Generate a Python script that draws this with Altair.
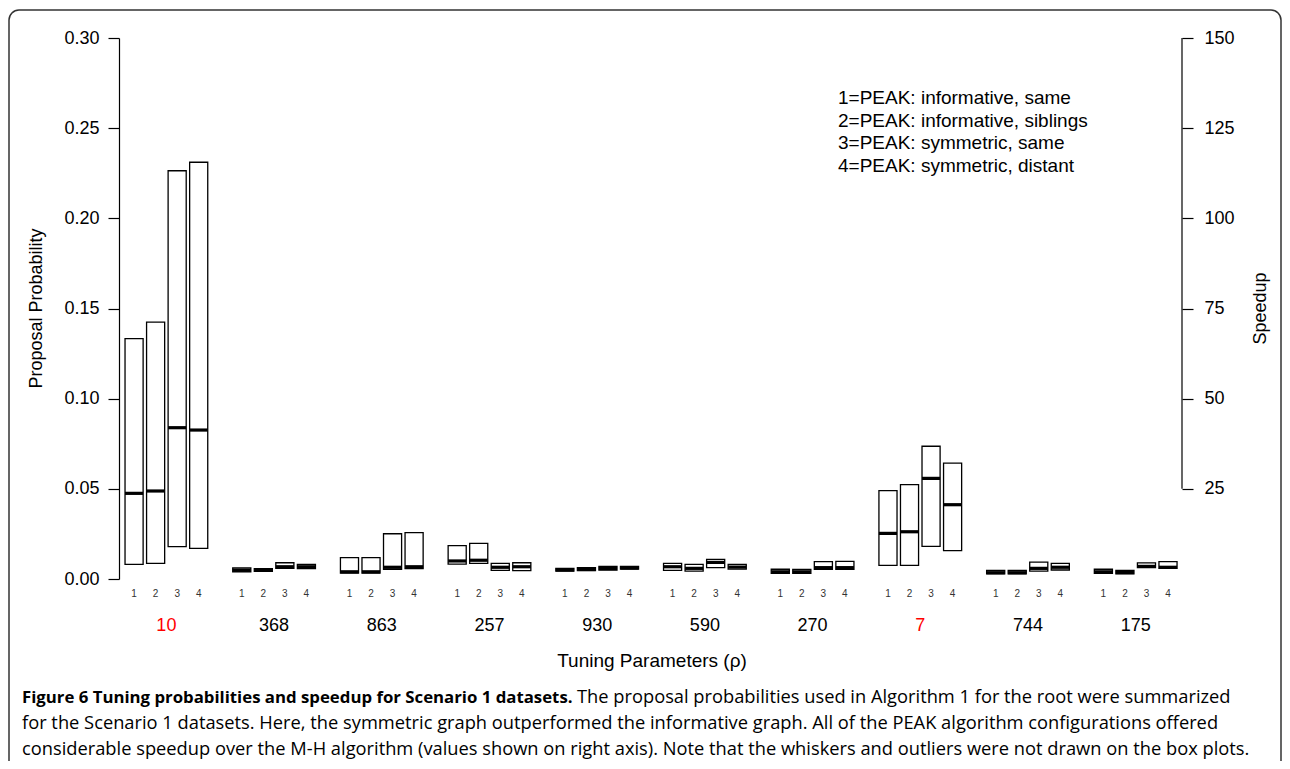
import altair as alt
import pandas as pd

groups = ["10", "368", "863", "257", "930", "590", "270", "7", "744", "175"]
configs = ["1", "2", "3", "4"]
highlight = ["10", "7"]

q1 = [0.0081, 0.0087, 0.0179, 0.0170,
      0.0040, 0.0043, 0.0059, 0.0057,
      0.0033, 0.0033, 0.0054, 0.0057,
      0.0083, 0.0087, 0.0048, 0.0046,
      0.0044, 0.0046, 0.0050, 0.0055,
      0.0048, 0.0044, 0.0063, 0.0055,
      0.0031, 0.0031, 0.0054, 0.0054,
      0.0076, 0.0076, 0.0181, 0.0157,
      0.0028, 0.0028, 0.0044, 0.0050,
      0.0031, 0.0029, 0.0063, 0.0059]
med = [0.0475, 0.0488, 0.0839, 0.0826,
       0.0048, 0.0050, 0.0068, 0.0068,
       0.0040, 0.0040, 0.0065, 0.0068,
       0.0100, 0.0104, 0.0065, 0.0068,
       0.0050, 0.0053, 0.0058, 0.0061,
       0.0068, 0.0059, 0.0092, 0.0066,
       0.0040, 0.0040, 0.0063, 0.0063,
       0.0253, 0.0262, 0.0558, 0.0412,
       0.0035, 0.0035, 0.0059, 0.0065,
       0.0040, 0.0036, 0.0070, 0.0065]
q3 = [0.1333, 0.1425, 0.2264, 0.2311,
      0.0061, 0.0057, 0.0090, 0.0081,
      0.0118, 0.0118, 0.0251, 0.0257,
      0.0185, 0.0198, 0.0087, 0.0090,
      0.0059, 0.0063, 0.0070, 0.0070,
      0.0087, 0.0081, 0.0109, 0.0081,
      0.0054, 0.0053, 0.0096, 0.0098,
      0.0490, 0.0523, 0.0736, 0.0643,
      0.0048, 0.0048, 0.0094, 0.0087,
      0.0054, 0.0048, 0.0089, 0.0096]

prob_ticks = [0.0, 0.05, 0.10, 0.15, 0.20, 0.25, 0.30]
speed_ticks = [25, 50, 75, 100, 125, 150]

legend_lines = ["1=PEAK: informative, same",
                "2=PEAK: informative, siblings",
                "3=PEAK: symmetric, same",
                "4=PEAK: symmetric, distant"]

caption_bold = "Figure 6 Tuning probabilities and speedup for Scenario 1 datasets."
caption_1 = "The proposal probabilities used in Algorithm 1 for the root were summarized"
caption_2 = ("for the Scenario 1 datasets. Here, the symmetric graph outperformed the informative graph. "
             "All of the PEAK algorithm configurations offered")
caption_3 = ("considerable speedup over the M-H algorithm (values shown on right axis). "
             "Note that the whiskers and outliers were not drawn on the box plots.")

# ---- tables ----
rows = []
for g, grp in enumerate(groups):
    for k, c in enumerate(configs):
        i = g * 4 + k
        rows.append({"group": grp, "config": c, "pos": g * 5 + k + 1,
                     "q1": q1[i], "med": med[i], "q3": q3[i]})
boxes = pd.DataFrame(rows)
gdf = pd.DataFrame({"group": groups, "pos": [g * 5 + 2.5 for g in range(len(groups))],
                    "hl": [grp in highlight for grp in groups]})

W, H = 1063, 541
FONT = "Liberation Sans"
CAP = "Open Sans"

xs = alt.Scale(domain=[0.3, 49.65], nice=False, zero=False)
ys = alt.Scale(domain=[0, 0.30], nice=False, zero=True)

base = alt.Chart(boxes).transform_calculate(xa="datum.pos - 0.42", xb="datum.pos + 0.42")

rects = base.mark_rect(fill="white", stroke="black", strokeWidth=1.3).encode(
    x=alt.X("xa:Q", scale=xs, axis=None),
    x2="xb:Q",
    y=alt.Y("q3:Q", scale=ys, axis=alt.Axis(
        orient="left", values=prob_ticks, format=".2f", grid=False,
        tickSize=11, tickColor="black", domainColor="black", domainWidth=1.2, tickWidth=1.2,
        labelFont=FONT, labelFontSize=18, labelColor="black", labelPadding=9,
        title="Proposal Probability", titleFont=FONT, titleFontSize=18, titleFontWeight="normal",
        titleColor="black", titleAngle=270, titleX=-83, titleY=270, titleAlign="center",
        titleBaseline="middle")),
    y2="q1:Q",
)
medians = base.mark_rule(color="black", strokeWidth=3.2, strokeCap="butt").encode(
    x=alt.X("xa:Q", scale=xs), x2="xb:Q", y=alt.Y("med:Q", scale=ys)
)
sub_labels = alt.Chart(boxes).mark_text(font=FONT, fontSize=10, color="#333333",
                                        baseline="alphabetic").encode(
    x=alt.X("pos:Q", scale=xs), y=alt.value(559), text="config:N"
)
group_labels = alt.Chart(gdf).mark_text(font=FONT, fontSize=18, baseline="alphabetic").encode(
    x=alt.X("pos:Q", scale=xs), y=alt.value(593), text="group:N",
    color=alt.condition("datum.hl", alt.value("#FF0000"), alt.value("black"))
)

one = pd.DataFrame({"t": [""]})


def txt(s, x, y, font=FONT, size=17, weight="normal", align="left", color="black"):
    return alt.Chart(pd.DataFrame({"t": [s]})).mark_text(
        font=font, fontSize=size, fontWeight=weight, align=align, baseline="alphabetic", color=color
    ).encode(x=alt.value(x), y=alt.value(y), text="t:N")


xtitle = txt("Tuning Parameters (ρ)", 533, 629, size=19, align="center")
legend = alt.layer(*[txt(s, 719, 66 + 22.6 * i, size=19) for i, s in enumerate(legend_lines)])
captions = alt.layer(
    txt(caption_bold, -97, 665, font=CAP, size=16.8, weight="bold"),
    txt(caption_1, 458, 665, font=CAP, size=18.3),
    txt(caption_2, -97, 691, font=CAP, size=18.3),
    txt(caption_3, -97, 717, font=CAP, size=18.3),
)
frame = alt.Chart(one).mark_rect(fill=None, stroke="#333333", strokeWidth=1.5, cornerRadius=10).encode(
    x=alt.value(-110), x2=alt.value(1162), y=alt.value(-28), y2=alt.value(820)
)

left = alt.layer(frame, rects, medians, sub_labels, group_labels, xtitle, legend, captions)

speed = pd.DataFrame({"lo": [speed_ticks[0]], "hi": [speed_ticks[-1]]})
right = alt.Chart(speed).mark_rule(color="black", strokeWidth=1.2).encode(
    x=alt.value(W),
    y=alt.Y("lo:Q", scale=alt.Scale(domain=[0, 150], nice=False), axis=alt.Axis(
        orient="right", values=speed_ticks, grid=False, domain=False,
        tickSize=11, tickColor="black", tickWidth=1.2,
        labelFont=FONT, labelFontSize=18, labelColor="black", labelPadding=11,
        title="Speedup", titleFont=FONT, titleFontSize=18, titleFontWeight="normal",
        titleColor="black", titleAngle=270, titleX=78, titleY=270, titleAlign="center",
        titleBaseline="middle")),
    y2="hi:Q",
)

chart = alt.layer(left, right).resolve_scale(y="independent").properties(
    width=W, height=H,
    autosize=alt.AutoSizeParams(type="none"),
    padding={"left": 111, "top": 30, "right": 100, "bottom": 182},
    background="white",
).configure_view(stroke=None)

chart.save("out.html", embed_options={"renderer": "svg", "actions": False})
